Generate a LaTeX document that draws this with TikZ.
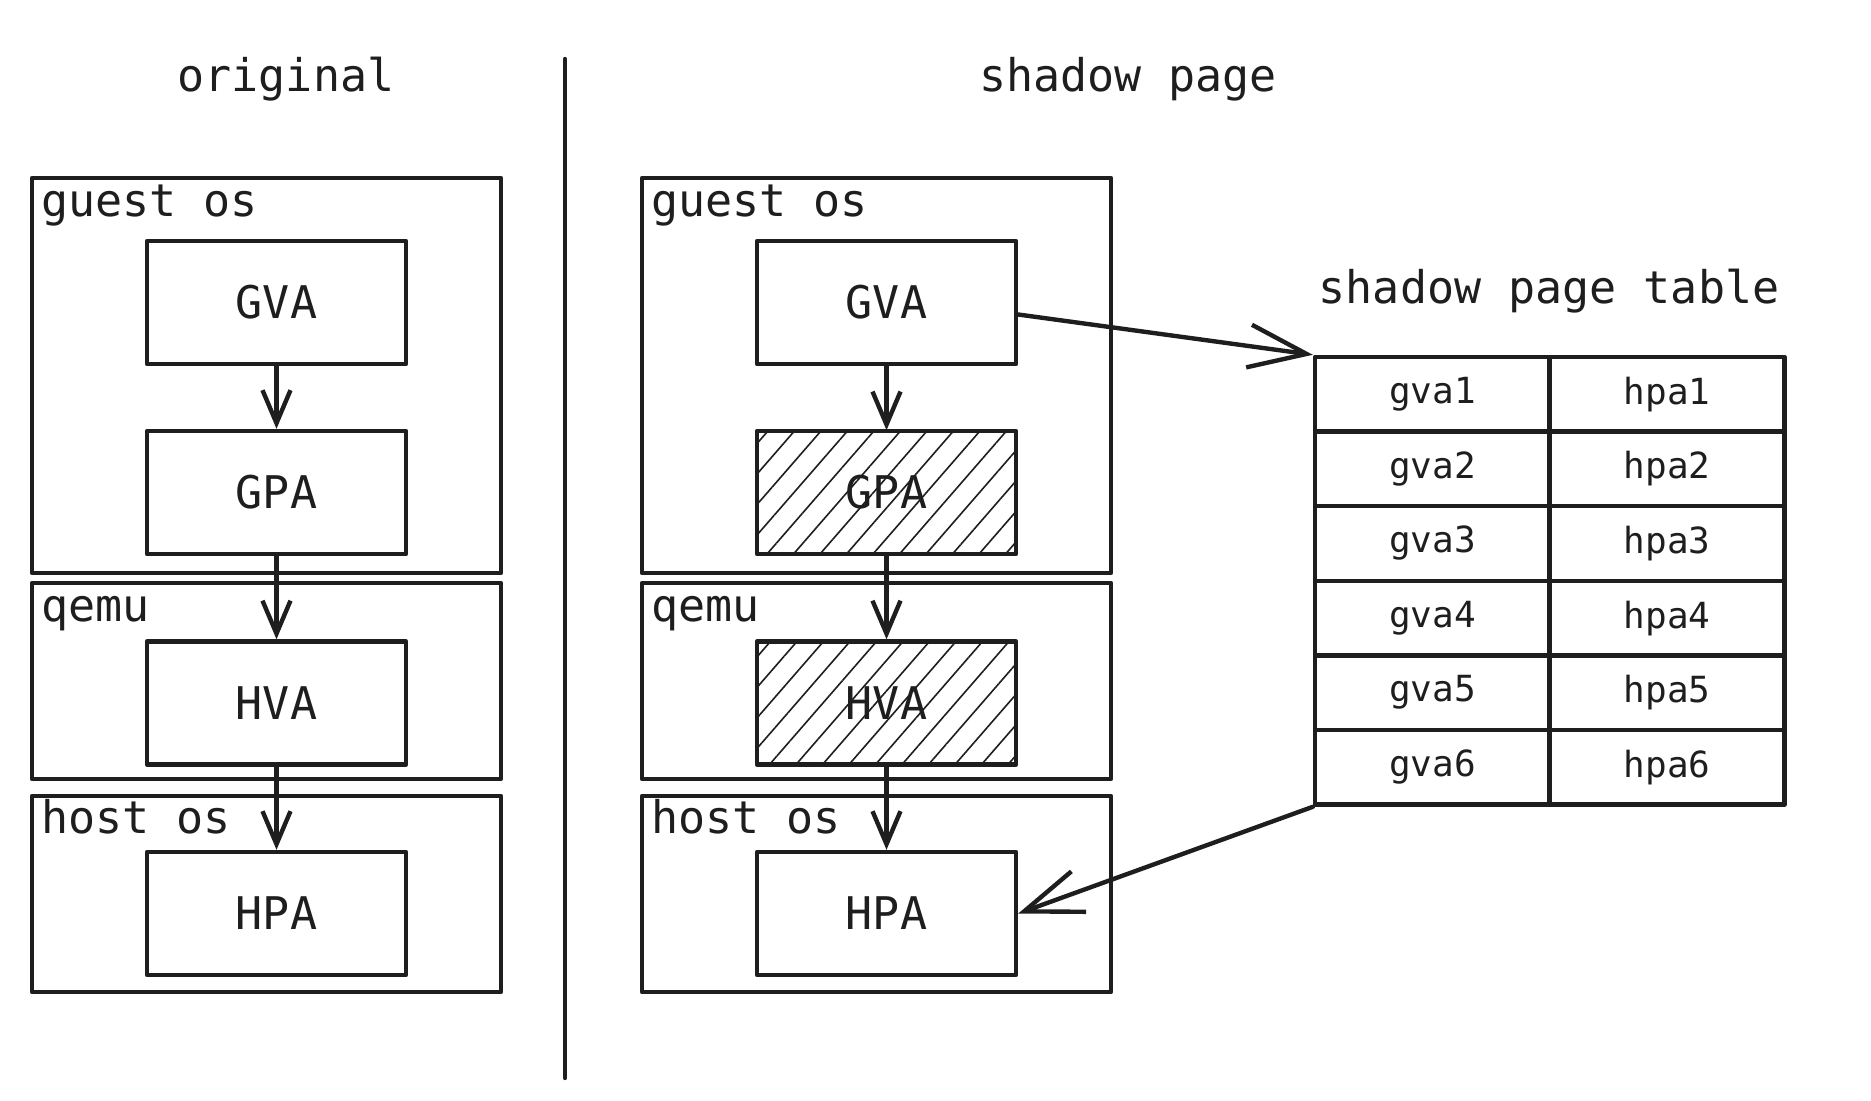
\documentclass[tikz,border=0pt]{standalone}
\usepackage{fontspec}
\setmonofont{DejaVu Sans Mono}
\usetikzlibrary{arrows.meta}
\usetikzlibrary{patterns.meta}
\definecolor{ink}{HTML}{1E1E1E}

\tikzset{
  layer/.style={draw, line width=2.2pt, minimum width=234.5pt, inner sep=0pt},
  addr/.style={draw, line width=2.2pt, minimum width=129.5pt, minimum height=61.5pt, font=\ttfamily\fontsize{22.5}{27}\selectfont},
  hatched/.style={addr, pattern={Lines[angle=49, distance=10pt, line width=0.8pt]}, pattern color=ink},
  cell/.style={draw, line width=2.2pt, minimum width=117.5pt, minimum height=37.3pt, font=\ttfamily\fontsize{18}{22}\selectfont},
  title/.style={anchor=base, font=\ttfamily\fontsize{22.5}{27}\selectfont},
  tag/.style={anchor=base west, inner sep=0pt, font=\ttfamily\fontsize{22.5}{27}\selectfont},
  arr/.style={line width=2.2pt, line cap=round, -{Straight Barb[length=16.5pt, width=14pt]}},
  longarr/.style={line width=2.2pt, line cap=round, -{Straight Barb[length=29pt, width=21.5pt]}}
}

\begin{document}
\begin{tikzpicture}[x=.5pt, y=-.5pt, line join=round, color=ink]
\useasboundingbox (0,0) rectangle (1871,1101);

% titles
\node[title] (torig) at (286,92) {original};
\node[title] (tshadow) at (1128,92) {shadow page};
\node[title] (ttable) at (1549,304) {shadow page table};

\draw[line width=2.2pt, line cap=round] (565,59) -- (565,1078); % divider

% original
\node[layer, minimum height=197.5pt] (ogos) at (266.5,375.5) {};
\node[layer, minimum height=98pt] (oqemu) at (266.5,681) {};
\node[layer, minimum height=98pt] (ohos) at (266.5,894) {};
\node[tag] (ogostag) at ([xshift=5.5pt,yshift=-20.5pt]ogos.north west) {guest os};
\node[tag] (oqemutag) at ([xshift=5.5pt,yshift=-20.5pt]oqemu.north west) {qemu};
\node[tag] (ohostag) at ([xshift=5.5pt,yshift=-20pt]ohos.north west) {host os};

\node[addr] (ogva) at (276.5,302.5) {GVA};
\node[addr] (ogpa) at (276.5,492.5) {GPA};
\node[addr] (ohva) at (276.5,703) {HVA};
\node[addr] (ohpa) at (276.5,913.5) {HPA};

\draw[arr] (ogva) -- (ogpa);
\draw[arr] (ogpa) -- (ohva);
\draw[arr] (ohva) -- (ohpa);

% shadow page
\node[layer, minimum height=197.5pt] (sgos) at (876.5,375.5) {};
\node[layer, minimum height=98pt] (sqemu) at (876.5,681) {};
\node[layer, minimum height=98pt] (shos) at (876.5,894) {};
\node[tag] (sgostag) at ([xshift=5.5pt,yshift=-20.5pt]sgos.north west) {guest os};
\node[tag] (sqemutag) at ([xshift=5.5pt,yshift=-20.5pt]sqemu.north west) {qemu};
\node[tag] (shostag) at ([xshift=5.5pt,yshift=-20pt]shos.north west) {host os};

\node[addr] (sgva) at (886.5,302.5) {GVA};
\node[hatched] (sgpa) at (886.5,492.5) {GPA}; % skipped
\node[hatched] (shva) at (886.5,703) {HVA}; % skipped
\node[addr] (shpa) at (886.5,913.5) {HPA};

\draw[arr] (sgva) -- (sgpa);
\draw[arr] (sgpa) -- (shva);
\draw[arr] (shva) -- (shpa);

% table
\foreach \i in {1,...,6} {
  \node[cell] (g\i) at (1432.5,319.7+74.6*\i) {gva\i};
  \node[cell] (h\i) at (1667,319.7+74.6*\i) {hpa\i};
}

\draw[longarr] ([yshift=-6pt]sgva.east) -- (g1.north west);
\draw[longarr] (g6.south west) -- (shpa.east);
\end{tikzpicture}
\end{document}
